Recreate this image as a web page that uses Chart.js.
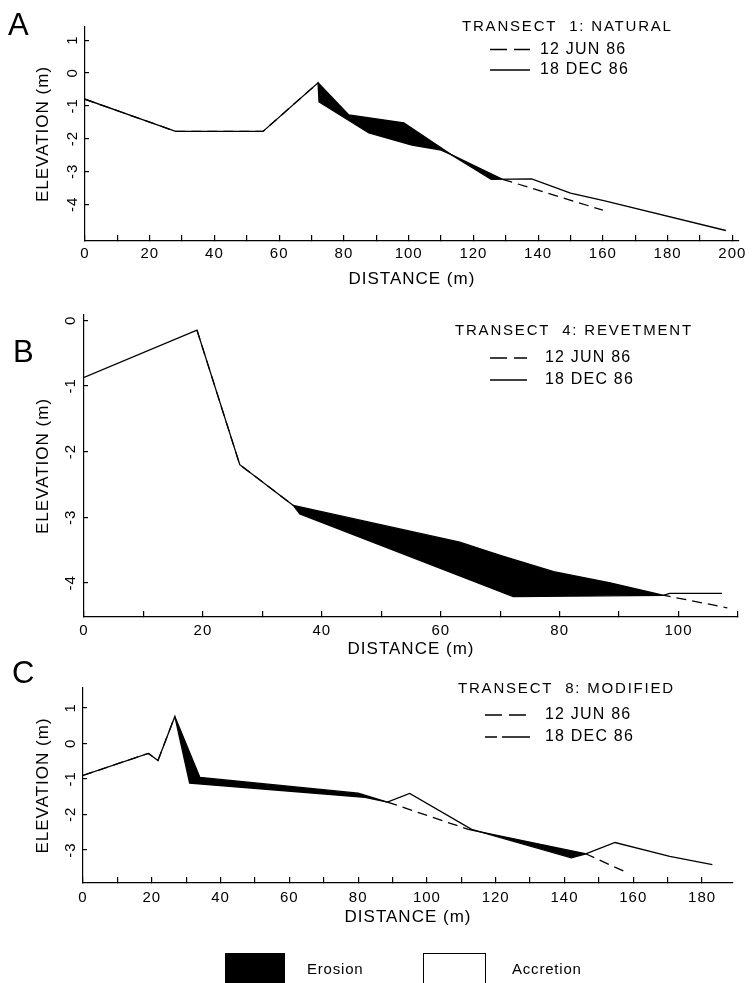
<!DOCTYPE html>
<html>
<head>
<meta charset="utf-8">
<script src="https://cdn.jsdelivr.net/npm/chart.js@4.4.0/dist/chart.umd.min.js"></script>
<style>
  html, body { margin: 0; padding: 0; background: #fff; }
  body { width: 755px; height: 983px; position: relative; overflow: hidden; }
  .panel { position: absolute; left: 0; width: 755px; }
</style>
</head>
<body>
<div class="panel" style="top:0;height:295px"><canvas id="chartA"></canvas></div>
<div class="panel" style="top:295px;height:365px"><canvas id="chartB"></canvas></div>
<div class="panel" style="top:660px;height:323px"><canvas id="chartC"></canvas></div>
<script>
// Survey dates
const surveyDates = ["12 JUN 86", "18 DEC 86"];

// Transect 1: natural (panel A)  distance (m) / elevation (m)
const aJunDist = [0, 28, 55, 72, 81.5, 98.5, 113, 129, 160];
const aJunElev = [-0.8, -1.78, -1.78, -0.3, -1.28, -1.52, -2.48, -3.24, -4.18];
const aDecDist = [0, 28, 55, 72, 72.3, 87.7, 101, 110, 113, 125.5, 138, 150, 160.6, 198];
const aDecElev = [-0.8, -1.78, -1.78, -0.3, -0.88, -1.83, -2.2, -2.35, -2.48, -3.24, -3.23, -3.66, -3.9, -4.8];

// Transect 4: revetment (panel B)
const bJunDist = [19, 26.2, 35.2, 63.2, 70, 79, 88.5, 97, 108.2];
const bJunElev = [-0.15, -2.2, -2.82, -3.38, -3.58, -3.83, -4.0, -4.18, -4.38];
const bDecDist = [0, 19, 26.2, 35.2, 36.3, 72.2, 97.5, 98.5, 107.3];
const bDecElev = [-0.87, -0.15, -2.2, -2.82, -2.95, -4.21, -4.19, -4.16, -4.16];

// Transect 8: modified (panel C)
const cJunDist = [0, 19, 21.8, 26.7, 34, 80, 88.5, 112, 146, 158];
const cJunElev = [-0.9, -0.28, -0.48, 0.76, -0.96, -1.4, -1.65, -2.42, -3.1, -3.63];
const cDecDist = [0, 19, 21.8, 26.7, 31, 82, 88.5, 95, 113, 142, 146, 154.7, 170.6, 183];
const cDecElev = [-0.9, -0.28, -0.48, 0.76, -1.12, -1.52, -1.65, -1.41, -2.42, -3.22, -3.12, -2.79, -3.18, -3.41];

const keyLabels = ["Erosion", "Accretion"];

Chart.defaults.font.family = '"Liberation Sans", Arial, Helvetica, sans-serif';
Chart.defaults.color = "#000";

const FONT = '"Liberation Sans", Arial, Helvetica, sans-serif';
const JUN_DASH = [10, 6];
const pts = (xs, ys) => xs.map((x, i) => ({ x: x, y: ys[i] }));

// elevation of a profile at distance x (linear between survey points)
function elevAt(xs, ys, x) {
    if (x <= xs[0]) return ys[0];
    for (let i = 1; i < xs.length; i++) {
        if (x <= xs[i]) return ys[i - 1] + (ys[i] - ys[i - 1]) * (x - xs[i - 1]) / (xs[i] - xs[i - 1]);
    }
    return ys[ys.length - 1];
}

// old print type is a bit spaced out
const spacing = {
    id: "spacing",
    beforeDraw(chart) { chart.ctx.letterSpacing = "1px"; }
};

function decor(d) {
    return {
        id: "decor",
        afterDraw(chart) {
            const ctx = chart.ctx;
            ctx.save();
            ctx.fillStyle = "#000";
            ctx.strokeStyle = "#000";
            ctx.letterSpacing = "0px";
            ctx.textBaseline = "alphabetic";
            ctx.font = "31px " + FONT;
            ctx.fillText(d.letter, d.letterX, d.letterY);

            ctx.font = "15px " + FONT;
            ctx.letterSpacing = "1.8px";
            ctx.textBaseline = "middle";
            ctx.fillText(d.title, d.titleX, d.titleY);
            ctx.font = "16px " + FONT;
            ctx.letterSpacing = "1.2px";
            d.rows.forEach((row, i) => {
                ctx.beginPath();
                ctx.lineWidth = 1.3;
                ctx.setLineDash(row.dash);
                ctx.moveTo(d.lineX0, row.y);
                ctx.lineTo(d.lineX1, row.y);
                ctx.stroke();
                ctx.setLineDash([]);
                ctx.fillText(chart.data.datasets[i].label, d.textX, row.y);
            });

            if (d.key) {
                const k = d.key;
                ctx.font = "15px " + FONT;
                ctx.letterSpacing = "0.8px";
                ctx.fillRect(k.x0, k.y, 60, 40);
                ctx.fillText(keyLabels[0], k.x0 + 82, k.textY);
                ctx.lineWidth = 1;
                ctx.strokeRect(k.x1 + 0.5, k.y + 0.5, 62, 40);
                ctx.fillText(keyLabels[1], k.x1 + 89, k.textY);
            }
            ctx.restore();
        }
    };
}

function makeTransect(id, s) {
    // June line is drawn solid where it bounds an erosion wedge, dashed elsewhere
    const junDash = c => {
        const mx = (c.p0.parsed.x + c.p1.parsed.x) / 2;
        const my = (c.p0.parsed.y + c.p1.parsed.y) / 2;
        return my - elevAt(s.decDist, s.decElev, mx) > 0.02 ? [] : JUN_DASH;
    };

    new Chart(document.getElementById(id), {
        type: "line",
        data: {
            datasets: [
                {
                    label: surveyDates[0],
                    data: pts(s.junDist, s.junElev),
                    borderColor: "#000",
                    borderWidth: 1.3,
                    borderDash: JUN_DASH,
                    segment: { borderDash: junDash },
                    pointRadius: 0,
                    fill: { target: 1, above: "#000", below: "rgba(0,0,0,0)" }
                },
                {
                    label: surveyDates[1],
                    data: pts(s.decDist, s.decElev),
                    borderColor: "#000",
                    borderWidth: 1.3,
                    pointRadius: 0,
                    fill: false
                }
            ]
        },
        options: {
            animation: false,
            responsive: true,
            maintainAspectRatio: false,
            events: [],
            layout: { padding: { top: s.padTop, right: s.padRight, left: 0, bottom: 0 } },
            plugins: { legend: { display: false }, tooltip: { enabled: false } },
            scales: {
                x: {
                    type: "linear",
                    min: 0,
                    max: s.xMax,
                    border: { color: "#000", width: 1.2 },
                    grid: { drawOnChartArea: false, drawTicks: true, tickLength: -6, color: "#000", lineWidth: 1.2 },
                    ticks: {
                        stepSize: 10, autoSkip: false, includeBounds: false,
                        minRotation: 0, maxRotation: 0,
                        padding: s.xTickPad,
                        font: { size: 15 },
                        callback: v => (v % 20 === 0 ? String(v) : "")
                    },
                    title: {
                        display: true, text: "DISTANCE (m)",
                        font: { size: 17 },
                        padding: { top: 0, bottom: s.xTitlePad }
                    },
                    afterFit: sc => { sc.height = s.xAxisH; }
                },
                y: {
                    type: "linear",
                    min: s.yMin,
                    max: s.yMax,
                    border: { color: "#000", width: 1.2 },
                    grid: { drawOnChartArea: false, drawTicks: true, tickLength: -4, color: "#000", lineWidth: 1.2 },
                    ticks: {
                        stepSize: 1, includeBounds: false,
                        minRotation: 90, maxRotation: 90,
                        crossAlign: "center",
                        padding: s.yTickPad,
                        font: { size: 15 }
                    },
                    title: {
                        display: true, text: "ELEVATION (m)",
                        font: { size: 17 },
                        padding: { top: 33, bottom: 0 }
                    },
                    afterBuildTicks: sc => { sc.ticks = sc.ticks.filter(t => t.value >= s.yLow); },
                    afterFit: sc => { sc.width = s.yAxisW; }
                }
            }
        },
        plugins: [spacing, decor(s.decor)]
    });
}

makeTransect("chartA", {
    junDist: aJunDist, junElev: aJunElev, decDist: aDecDist, decElev: aDecElev,
    xMax: 202, yMin: -5.12, yMax: 1.4, yLow: -4,
    padTop: 27, padRight: 15.5, yAxisW: 85, xAxisH: 54,
    xTickPad: 10, yTickPad: 9, xTitlePad: 5,
    decor: {
        letter: "A", letterX: 8, letterY: 35,
        title: "TRANSECT  1: NATURAL", titleX: 462, titleY: 26.5,
        lineX0: 490, lineX1: 530, textX: 540,
        rows: [{ y: 49.5, dash: [17, 7] }, { y: 70, dash: [] }]
    }
});

makeTransect("chartB", {
    junDist: bJunDist, junElev: bJunElev, decDist: bDecDist, decElev: bDecElev,
    xMax: 110, yMin: -4.52, yMax: 0.08, yLow: -4,
    padTop: 20, padRight: 17, yAxisW: 84, xAxisH: 43,
    xTickPad: 10.5, yTickPad: 10, xTitlePad: 0,
    decor: {
        letter: "B", letterX: 13, letterY: 67,
        title: "TRANSECT  4: REVETMENT", titleX: 455, titleY: 36,
        lineX0: 490, lineX1: 527, textX: 545,
        rows: [{ y: 63, dash: [17, 7] }, { y: 85, dash: [] }]
    }
});

makeTransect("chartC", {
    junDist: cJunDist, junElev: cJunElev, decDist: cDecDist, decElev: cDecElev,
    xMax: 189, yMin: -3.93, yMax: 1.56, yLow: -3,
    padTop: 28, padRight: 22, yAxisW: 83, xAxisH: 100,
    xTickPad: 12, yTickPad: 9, xTitlePad: 55,
    decor: {
        letter: "C", letterX: 12, letterY: 23,
        title: "TRANSECT  8: MODIFIED", titleX: 458, titleY: 29,
        lineX0: 485, lineX1: 530, textX: 545,
        rows: [{ y: 55, dash: [17, 7] }, { y: 77, dash: [12, 5, 28, 5] }],
        key: { x0: 225, x1: 423, y: 293, textY: 310 }
    }
});
</script>
</body>
</html>
